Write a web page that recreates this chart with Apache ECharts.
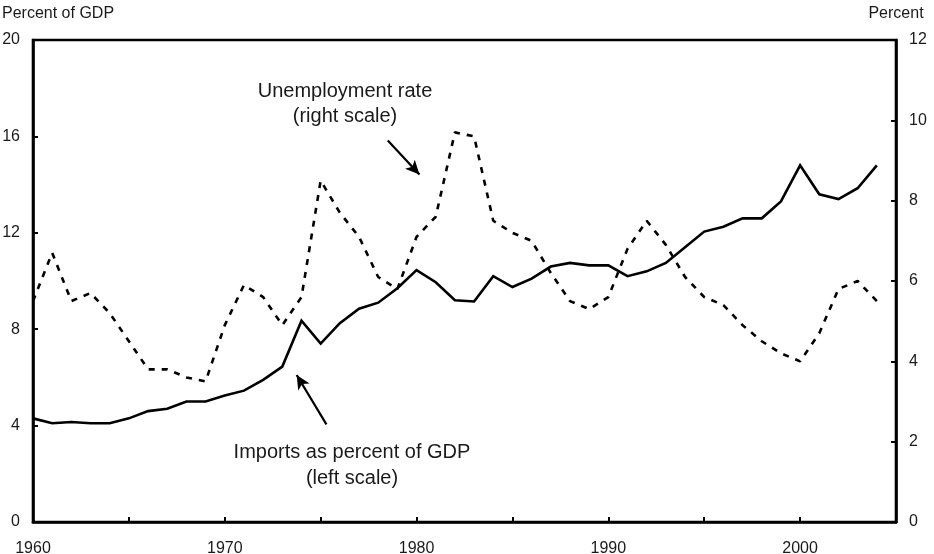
<!DOCTYPE html>
<html>
<head>
<meta charset="utf-8">
<script src="https://cdn.jsdelivr.net/npm/echarts@6/dist/echarts.min.js"></script>
<style>
html,body{margin:0;padding:0;background:#fff;}
#chart{width:934px;height:554px;}
</style>
</head>
<body>
<div id="chart"></div>
<script>
var years = [];
for (var y = 1960; y <= 2004; y++) years.push(y);

var importsPct = [4.3, 4.1, 4.15, 4.1, 4.1, 4.3, 4.6, 4.7, 5.0, 5.0, 5.25, 5.45, 5.9, 6.45, 8.35,
  7.4, 8.25, 8.85, 9.1, 9.7, 10.45, 9.95, 9.2, 9.15, 10.2, 9.75, 10.1, 10.6, 10.75, 10.65,
  10.65, 10.2, 10.4, 10.75, 11.4, 12.05, 12.25, 12.6, 12.6, 13.3, 14.8, 13.6, 13.4, 13.85, 14.8];

var unemployment = [5.5, 6.7, 5.5, 5.7, 5.2, 4.5, 3.8, 3.8, 3.6, 3.5, 4.9, 5.9, 5.6, 4.9, 5.6,
  8.5, 7.7, 7.1, 6.1, 5.8, 7.1, 7.6, 9.7, 9.6, 7.5, 7.2, 7.0, 6.2, 5.5, 5.3,
  5.6, 6.8, 7.5, 6.9, 6.1, 5.6, 5.4, 4.9, 4.5, 4.2, 4.0, 4.7, 5.8, 6.0, 5.5];

var xLabelYears = [1960, 1970, 1980, 1990, 2000];
var leftTicks = [0, 4, 8, 12, 16, 20];
var rightTicks = [0, 2, 4, 6, 8, 10, 12];

var leftName = 'Percent of GDP';
var rightName = 'Percent';
var unempText = ['Unemployment rate', '(right scale)'];
var importsText = ['Imports as percent of GDP', '(left scale)'];

// annotation arrows in data coordinates [year, value]
var unempArrow = [[1978.5, 9.5], [1980.15, 8.65]];
var importsArrow = [[1975.3, 4.05], [1973.75, 6.1]];

var FONT = '"Liberation Sans", Arial, sans-serif';
var TXT = '#1a1a1a';

function pairs(xs, vs) { return xs.map(function (x, i) { return [x, vs[i]]; }); }

var chart = echarts.init(document.getElementById('chart'), null, {renderer: 'canvas'});

var axisCommon = {
  axisLine: {show: true, lineStyle: {color: '#000', width: 2.6}},
  axisTick: {show: true, inside: true, length: 5, lineStyle: {color: '#000', width: 2}},
  splitLine: {show: false},
  axisLabel: {color: TXT, fontFamily: FONT, fontSize: 16}
};

function label(text, x, y) {
  return {type: 'text', x: x, y: y, silent: true,
    style: {text: text, font: '20px ' + FONT, fill: TXT, align: 'center', verticalAlign: 'middle',
      textAlign: 'center', textVerticalAlign: 'middle'}};
}

chart.setOption({
  backgroundColor: '#fff',
  animation: false,
  grid: {left: 33, right: 38, top: 40, bottom: 32, containLabel: false, outerBoundsMode: 'none',
    show: true, borderColor: '#000', borderWidth: 2.6, backgroundColor: 'transparent'},
  xAxis: Object.assign({}, axisCommon, {
    type: 'value', min: 1960, max: 2005, interval: 5,
    axisLabel: Object.assign({}, axisCommon.axisLabel, {
      margin: 19,
      formatter: function (v) { return xLabelYears.indexOf(v) >= 0 ? String(v) : ''; }
    })
  }),
  yAxis: [
    Object.assign({}, axisCommon, {
      type: 'value', min: leftTicks[0], max: leftTicks[leftTicks.length - 1], interval: 4, position: 'left',
      axisLabel: Object.assign({}, axisCommon.axisLabel, {margin: 13}),
      name: leftName, nameLocation: 'end', nameGap: 18,
      nameTextStyle: {color: TXT, fontFamily: FONT, fontSize: 16, align: 'left', padding: [0, 0, 0, -31]}
    }),
    Object.assign({}, axisCommon, {
      type: 'value', min: rightTicks[0], max: rightTicks[rightTicks.length - 1], interval: 2, position: 'right',
      axisLabel: Object.assign({}, axisCommon.axisLabel, {margin: 13}),
      name: rightName, nameLocation: 'end', nameGap: 18,
      nameTextStyle: {color: TXT, fontFamily: FONT, fontSize: 16, align: 'center'}
    })
  ],
  series: [
    {
      name: 'Imports as percent of GDP', type: 'line', yAxisIndex: 0,
      data: pairs(years, importsPct), showSymbol: false, symbol: 'none',
      lineStyle: {color: '#000', width: 2.6, join: 'miter'},
      z: 3,
      markLine: {
        silent: true, symbol: ['none', 'arrow'], symbolSize: [10, 14],
        label: {show: false},
        lineStyle: {color: '#000', width: 2.2, type: 'solid'},
        data: [[{coord: importsArrow[0]}, {coord: importsArrow[1]}]]
      }
    },
    {
      name: 'Unemployment rate', type: 'line', yAxisIndex: 1,
      data: pairs(years, unemployment), showSymbol: false, symbol: 'none',
      lineStyle: {color: '#000', width: 2.6, type: [6, 7]},
      z: 2,
      markLine: {
        silent: true, symbol: ['none', 'arrow'], symbolSize: [10, 14],
        label: {show: false},
        lineStyle: {color: '#000', width: 2.2, type: 'solid'},
        data: [[{coord: unempArrow[0]}, {coord: unempArrow[1]}]]
      }
    }
  ],
  graphic: [
    label(unempText[0], 345, 91),
    label(unempText[1], 345, 116),
    label(importsText[0], 352, 452),
    label(importsText[1], 352, 478)
  ]
});
</script>
</body>
</html>
